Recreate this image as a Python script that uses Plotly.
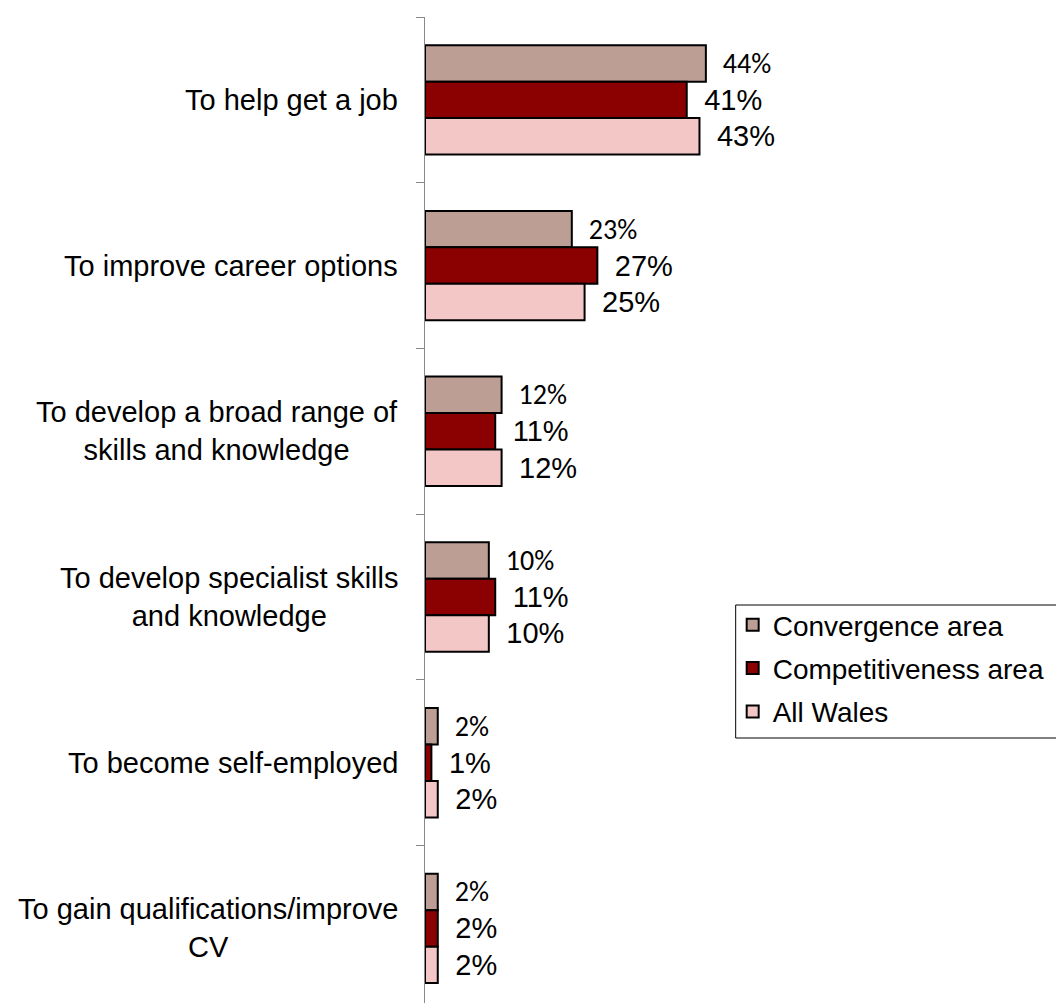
import plotly.graph_objects as go

categories = [
    "To help get a job",
    "To improve career options",
    "To develop a broad range of<br>skills and knowledge",
    "To develop specialist skills<br>and knowledge",
    "To become self-employed",
    "To gain qualifications/improve<br>CV",
]
series_names = ["Convergence area", "Competitiveness area", "All Wales"]
convergence = [44, 23, 12, 10, 2, 2]
competitiveness = [41, 27, 11, 11, 1, 2]
all_wales = [43, 25, 12, 10, 2, 2]

colors = ["#BC9E94", "#8B0000", "#F4C7C7"]
ARIAL = "Liberation Sans, Arial, sans-serif"
CALIBRI = "Calibri, Carlito, Lato, sans-serif"
label_fonts = [dict(family=CALIBRI, size=28, color="black"),
               dict(family=ARIAL, size=29, color="black"),
               dict(family=ARIAL, size=29, color="black")]

fig = go.Figure()
for name, vals, col, tf in zip(series_names, [convergence, competitiveness, all_wales], colors, label_fonts):
    fig.add_trace(go.Bar(
        y=list(range(len(categories))), x=vals, name=name, orientation="h",
        legendgroup=name,
        marker=dict(color=col, line=dict(color="black", width=2)),
        text=[f"\u2002{v}%" for v in vals], textposition="outside",
        textfont=tf, constraintext="none", cliponaxis=False,
        hoverinfo="skip",
    ))

for i, c in enumerate(categories):
    fig.add_annotation(x=0, xref="paper", y=i, yref="y", text=c, showarrow=False,
                       xanchor="right", yanchor="middle", align="center", xshift=-25,
                       font=dict(family=ARIAL, size=29, color="black"))

W, H = 1056, 1003
left, top = 425, 17
scale = 6.39
xmax = 60
plot_w = xmax * scale
plot_h = H - top


def px_x(px):
    return (px - left) / plot_w


def px_y(py):
    return (H - py) / plot_h


# legend frame (extends past the right edge like the original)
fig.add_shape(type="rect", xref="paper", yref="paper",
              x0=px_x(736), x1=px_x(1070), y0=px_y(738), y1=px_y(605),
              line=dict(color="black", width=1), fillcolor="white", layer="below")

fig.update_layout(
    width=W, height=H,
    margin=dict(l=left, t=top, b=0, r=W - left - plot_w, pad=0, autoexpand=False),
    paper_bgcolor="white", plot_bgcolor="rgba(0,0,0,0)",
    barmode="group", bargap=0.34, bargroupgap=0,
    showlegend=True,
    legend=dict(
        x=px_x(733), xanchor="left",
        y=px_y(600), yanchor="top",
        font=dict(family=ARIAL, size=28, color="black"),
        borderwidth=0, bgcolor="rgba(0,0,0,0)",
        traceorder="grouped", tracegroupgap=4,
    ),
    xaxis=dict(range=[0, xmax], visible=False, fixedrange=True),
    yaxis=dict(
        range=[5.45, -0.5], tickmode="array",
        tickvals=[i - 0.5 for i in range(len(categories) + 1)],
        ticktext=[""] * (len(categories) + 1),
        ticks="outside", ticklen=8, tickcolor="#888888", tickwidth=1,
        showline=True, linecolor="#888888", linewidth=1,
        showgrid=False, zeroline=False, fixedrange=True,
    ),
)
fig.write_html("out.html", config={"displayModeBar": False},
               post_script="document.body.style.margin='0';document.body.style.overflow='hidden';")
